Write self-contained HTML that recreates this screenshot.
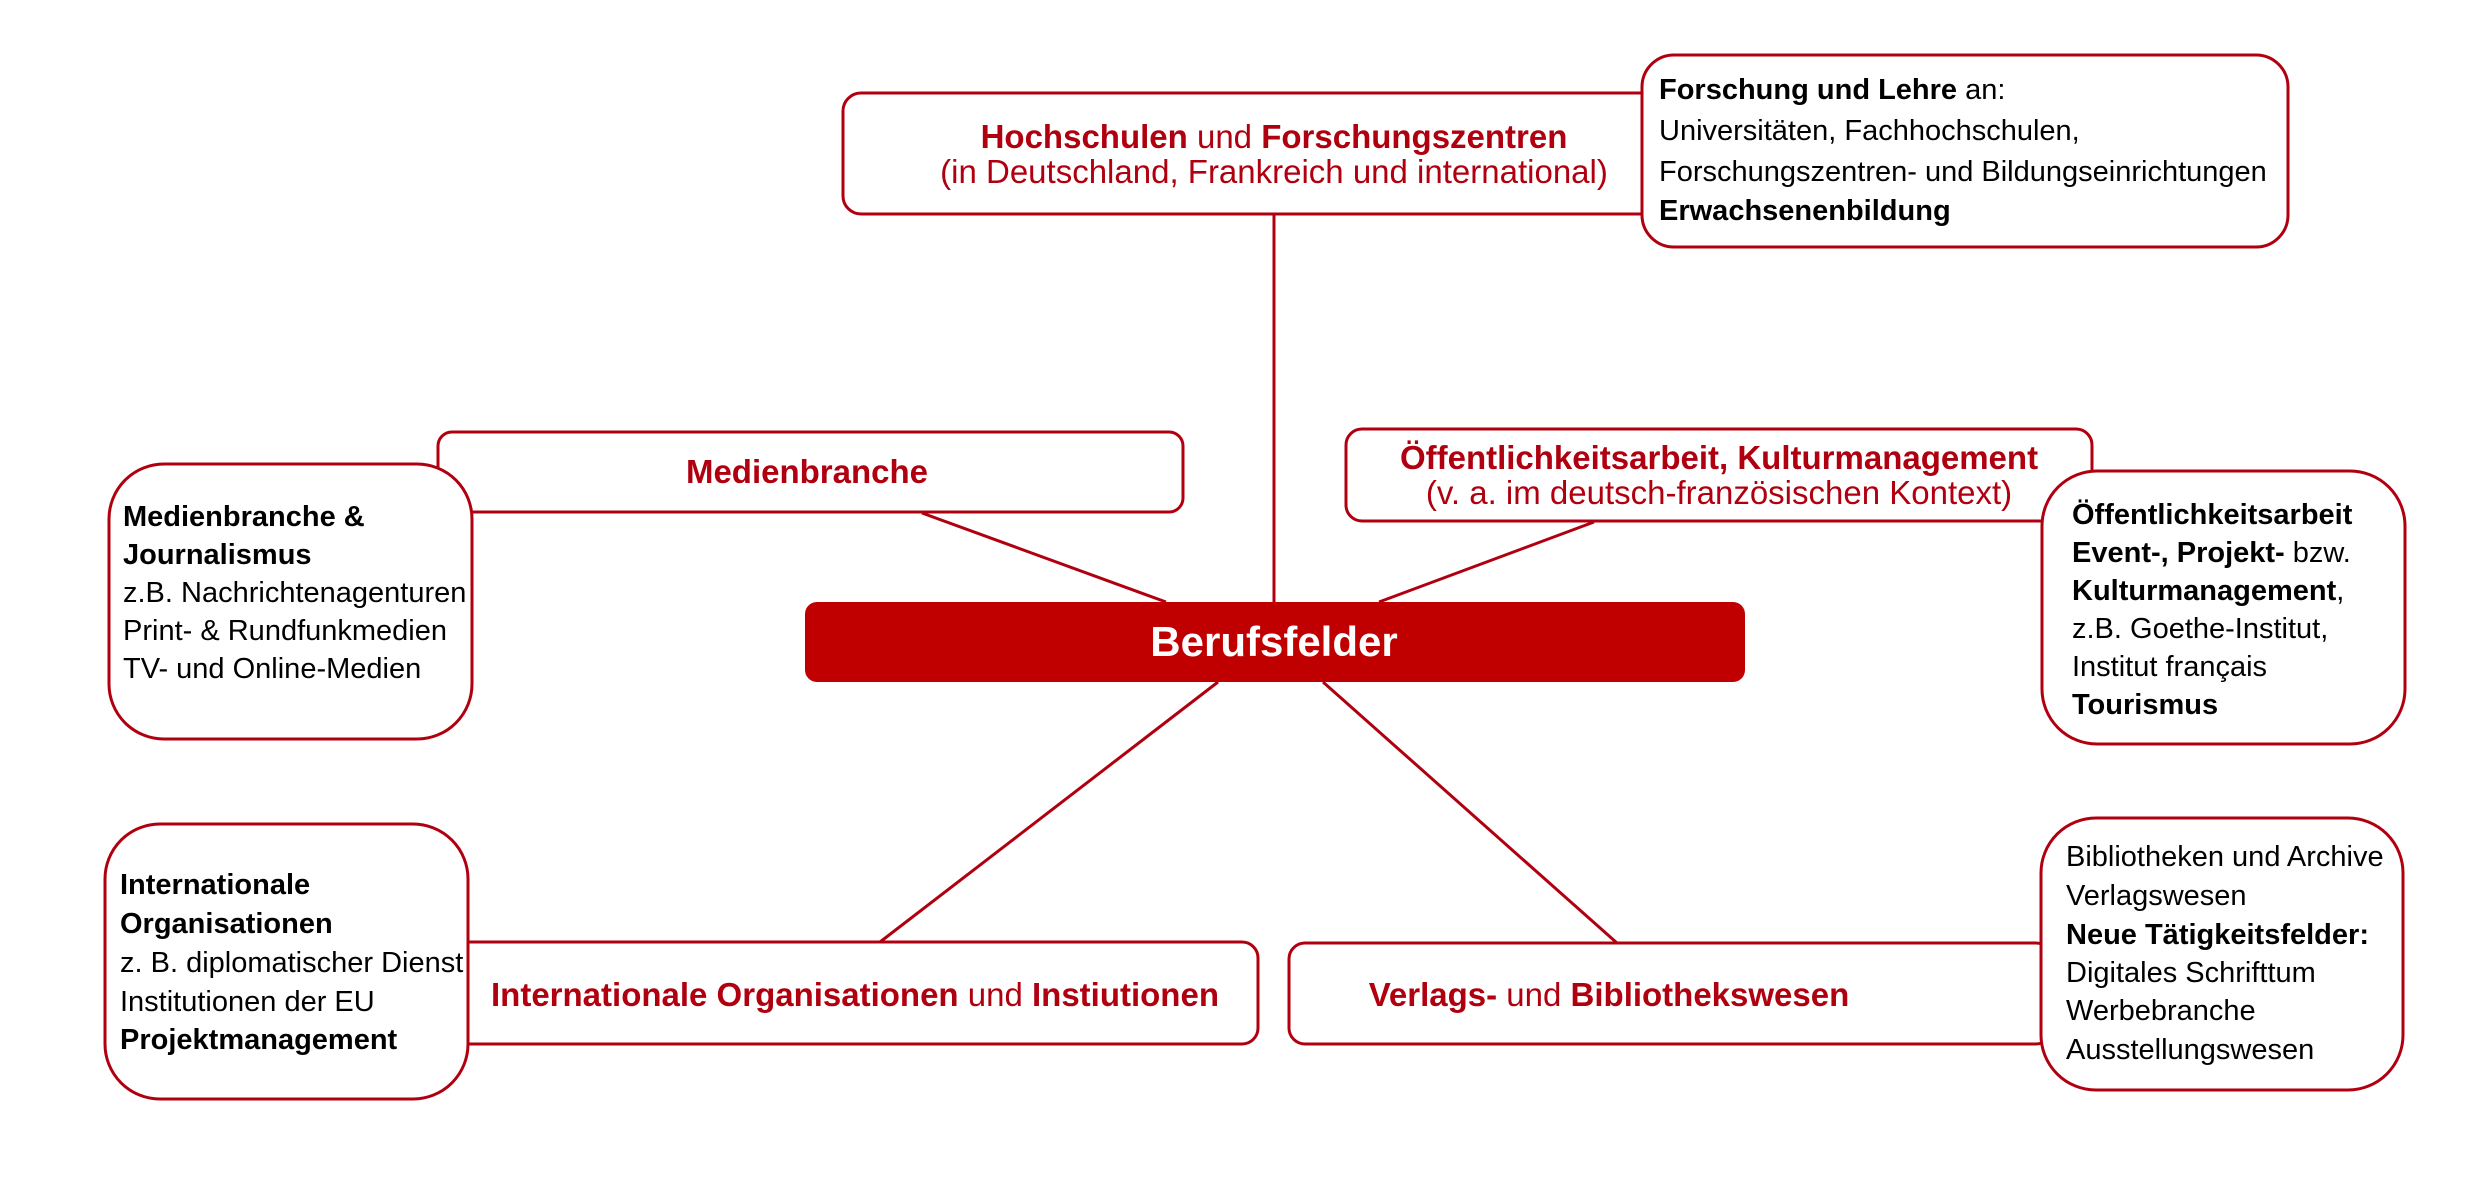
<!DOCTYPE html>
<html><head><meta charset="utf-8"><style>
html,body{margin:0;padding:0;background:#fff;}
svg{display:block;}
text{font-family:"Liberation Sans",Arial,sans-serif;}
.t{font-size:33px;fill:#b00010;}
.d{font-size:29px;fill:#000;}
b,.b{font-weight:bold;}
</style></head><body>
<svg width="2480" height="1185" viewBox="0 0 2480 1185" xmlns="http://www.w3.org/2000/svg">
<g stroke="#b00010" stroke-width="3" fill="none">
<line x1="1274" y1="214" x2="1274" y2="602"/>
<line x1="922" y1="513" x2="1166" y2="602"/>
<line x1="1594" y1="522" x2="1379" y2="602"/>
<line x1="1218" y1="682" x2="880" y2="942"/>
<line x1="1323" y1="682" x2="1617" y2="943"/>
</g>
<g stroke="#b00010" stroke-width="3" fill="#fff">
<rect x="843" y="93" width="820" height="121" rx="18"/>
<rect x="438" y="432" width="745" height="80" rx="14"/>
<rect x="1346" y="429" width="746" height="92" rx="16"/>
<rect x="440" y="942" width="818" height="102" rx="16"/>
<rect x="1289" y="943" width="763" height="101" rx="16"/>
<rect x="1642" y="55" width="646" height="192" rx="32"/>
<rect x="109" y="464" width="363" height="275" rx="55"/>
<rect x="2042" y="471" width="363" height="273" rx="55"/>
<rect x="105" y="824" width="363" height="275" rx="55"/>
<rect x="2041" y="818" width="362" height="272" rx="55"/>
</g>
<rect x="805" y="602" width="940" height="80" rx="12" fill="#c00000"/>
<text x="1274" y="656" text-anchor="middle" font-size="42" font-weight="bold" fill="#fff">Berufsfelder</text>

<text class="t" x="1274" y="148" text-anchor="middle"><tspan class="b">Hochschulen</tspan> und <tspan class="b">Forschungszentren</tspan></text>
<text class="t" x="1274" y="183" text-anchor="middle">(in Deutschland, Frankreich und international)</text>
<text class="t" x="807" y="483" text-anchor="middle" font-weight="bold">Medienbranche</text>
<text class="t" x="1719" y="469" text-anchor="middle" font-weight="bold">Öffentlichkeitsarbeit, Kulturmanagement</text>
<text class="t" x="1719" y="504" text-anchor="middle">(v. a. im deutsch-französischen Kontext)</text>
<text class="t" x="855" y="1006" text-anchor="middle"><tspan class="b">Internationale Organisationen</tspan> und <tspan class="b">Instiutionen</tspan></text>
<text class="t" x="1609" y="1006" text-anchor="middle"><tspan class="b">Verlags-</tspan> und <tspan class="b">Bibliothekswesen</tspan></text>

<text class="d" x="1659" y="99"><tspan class="b">Forschung und Lehre</tspan> an:</text>
<text class="d" x="1659" y="140">Universitäten, Fachhochschulen,</text>
<text class="d" x="1659" y="181">Forschungszentren- und Bildungseinrichtungen</text>
<text class="d b" x="1659" y="220">Erwachsenenbildung</text>

<text class="d b" x="123" y="526">Medienbranche &amp;</text>
<text class="d b" x="123" y="564">Journalismus</text>
<text class="d" x="123" y="602">z.B. Nachrichtenagenturen</text>
<text class="d" x="123" y="640">Print- &amp; Rundfunkmedien</text>
<text class="d" x="123" y="678">TV- und Online-Medien</text>

<text class="d b" x="2072" y="524">Öffentlichkeitsarbeit</text>
<text class="d" x="2072" y="562"><tspan class="b">Event-, Projekt-</tspan> bzw.</text>
<text class="d" x="2072" y="600"><tspan class="b">Kulturmanagement</tspan>,</text>
<text class="d" x="2072" y="638">z.B. Goethe-Institut,</text>
<text class="d" x="2072" y="676">Institut français</text>
<text class="d b" x="2072" y="714">Tourismus</text>

<text class="d b" x="120" y="894">Internationale</text>
<text class="d b" x="120" y="933">Organisationen</text>
<text class="d" x="120" y="972">z. B. diplomatischer Dienst</text>
<text class="d" x="120" y="1011">Institutionen der EU</text>
<text class="d b" x="120" y="1049">Projektmanagement</text>

<text class="d" x="2066" y="866">Bibliotheken und Archive</text>
<text class="d" x="2066" y="905">Verlagswesen</text>
<text class="d b" x="2066" y="944">Neue Tätigkeitsfelder:</text>
<text class="d" x="2066" y="982">Digitales Schrifttum</text>
<text class="d" x="2066" y="1020">Werbebranche</text>
<text class="d" x="2066" y="1059">Ausstellungswesen</text>
</svg>
</body></html>
